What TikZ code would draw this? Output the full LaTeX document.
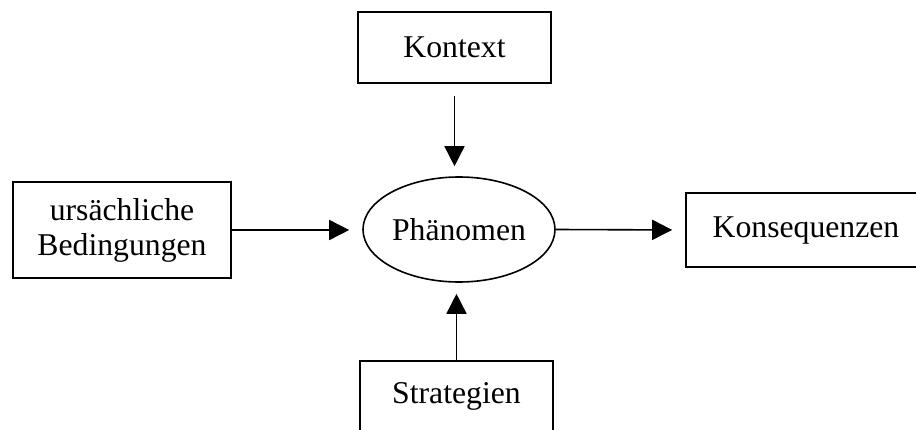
\documentclass[tikz,border=0pt]{standalone}
\usepackage{fontspec}
\setmainfont{Liberation Serif}
\usetikzlibrary{shapes.geometric,arrows.meta}
\begin{document}
\begin{tikzpicture}[x=1pt,y=1pt,
  every node/.style={font=\fontsize{31.7}{35}\selectfont, inner sep=0pt},
  box/.style={draw, line width=1.6pt, rectangle, align=center},
  phen/.style={draw, line width=1.6pt, ellipse, minimum width=192pt, minimum height=105pt},
  flow/.style={line width=1.6pt, -{Triangle[length=20pt,width=20pt]}}
]
\useasboundingbox (0,0) rectangle (916,429);
\clip (0,0) rectangle (916,429);

% central phenomenon
\node[phen] (E) at (459,199.5) {Phänomen};

% surrounding factors
\node[box, minimum width=193pt, minimum height=71pt] (K) at (454.5,381.5) {Kontext};
\node[box, minimum width=218pt, minimum height=96pt] (U) at (122,199) {ursächliche\\Bedingungen};
\node[box, minimum width=240pt, minimum height=74pt] (C) at (806,199) {Konsequenzen};
\node[box, minimum width=193pt, minimum height=70pt] (S) at (456.5,33) {Strategien};

% connectors
\draw[flow, shorten <=12pt, shorten >=10pt] (K.south) -- (K.south |- E.north);
\draw[flow, shorten >=13pt] (U.east) -- (U.east -| E.west);
\draw[flow, shorten >=13pt] (E.east) -- (C.west);
\draw[flow, shorten >=11pt] (S.north) -- (S.north |- E.south);
\end{tikzpicture}
\end{document}
